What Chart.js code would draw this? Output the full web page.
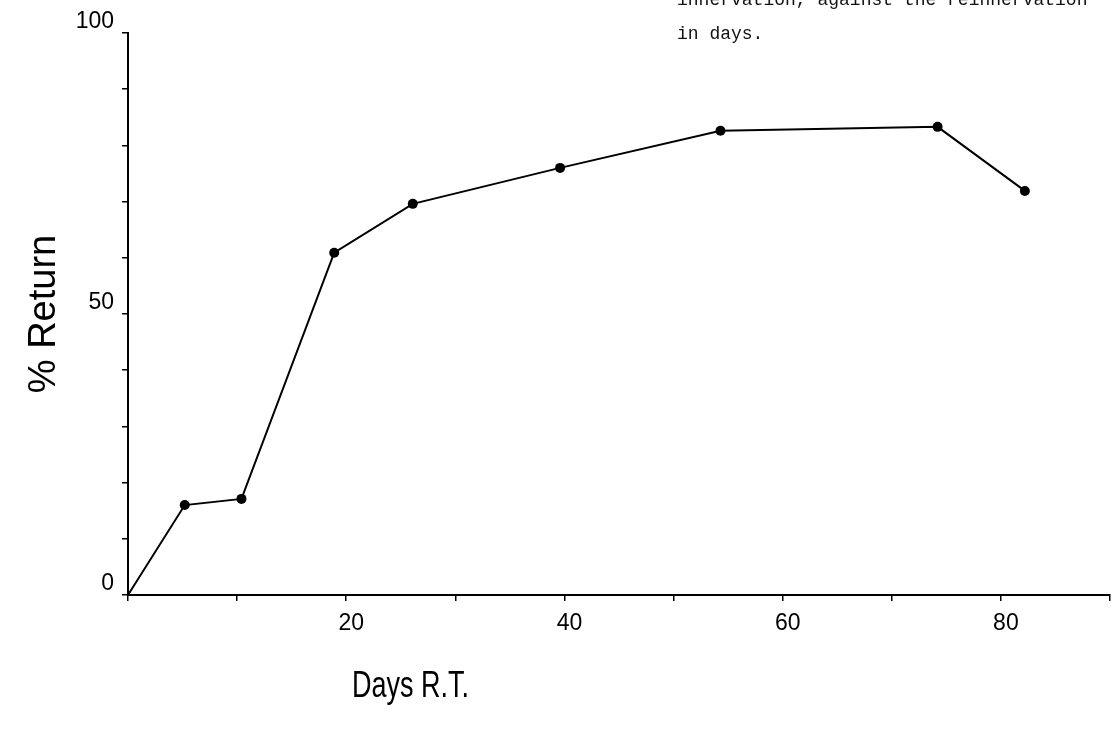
<!DOCTYPE html>
<html>
<head>
<meta charset="utf-8">
<script src="https://cdn.jsdelivr.net/npm/chart.js@4/dist/chart.umd.min.js"></script>
<style>
    body { margin: 0; background: #fff; }
    .wrap { position: relative; width: 1115px; height: 730px; }
</style>
</head>
<body>
<div class="wrap"><canvas id="chart"></canvas></div>
<script>
// days after reinnervation / % return
const days = [0, 5.2, 10.4, 18.9, 26.1, 39.6, 54.3, 74.2, 82.2];
const pctReturn = [0, 16.0, 17.1, 60.9, 69.6, 76.0, 82.6, 83.3, 71.9];
const xLabels = [20, 40, 60, 80];
const yLabels = [0, 50, 100];
const captionLines = ['innervation, against the reinnervation', 'in days.'];
const xTitle = 'Days R.T.';
const yTitle = '% Return';

const points = days.map((d, i) => ({ x: d, y: pctReturn[i] }));

/* caption at the top right and the x title, drawn straight on the canvas */
const notesPlugin = {
    id: 'notes',
    afterDraw(chart) {
        const ctx = chart.ctx;
        ctx.save();
        ctx.fillStyle = '#111';
        ctx.textBaseline = 'alphabetic';
        ctx.font = '18px "Liberation Mono", monospace';
        ctx.fillText(captionLines[0], 677, 5);
        ctx.fillText(captionLines[1], 677, 39);

        ctx.translate(352, 697);
        ctx.scale(0.75, 1);
        ctx.font = '36px "Liberation Sans", sans-serif';
        ctx.fillStyle = '#000';
        ctx.fillText(xTitle, 0, 0);
        ctx.restore();
    }
};

const chart = document.querySelector('#chart').getContext('2d');
const myChart = new Chart(chart, {
    type: 'line',
    data: {
        datasets: [{
            data: points,
            borderColor: '#000',
            backgroundColor: '#000',
            borderWidth: 2,
            pointRadius: c => c.dataIndex === 0 ? 0 : 5,
            pointBorderWidth: 0,
            tension: 0,
            fill: false,
            clip: false,
        }]
    },
    options: {
        responsive: true,
        maintainAspectRatio: false,
        animation: false,
        layout: { padding: { top: 33, right: 0, left: 0, bottom: 0 } },
        plugins: {
            legend: { display: false },
            tooltip: { enabled: false },
        },
        scales: {
            x: {
                type: 'linear',
                min: 0,
                max: 90,
                afterFit: s => { s.height = 135; s.paddingLeft = 0; s.paddingRight = 0; },
                grid: { drawOnChartArea: false, drawTicks: true, tickLength: 6, color: '#000', lineWidth: 1.5 },
                border: { color: '#000', width: 2 },
                ticks: {
                    stepSize: 10,
                    includeBounds: false,
                    autoSkip: false,
                    maxRotation: 0,
                    padding: 9,
                    labelOffset: 5,
                    color: '#000',
                    font: { family: '"Liberation Sans", sans-serif', size: 23 },
                    callback: v => xLabels.includes(v) ? String(v) : '',
                },
            },
            y: {
                type: 'linear',
                min: 0,
                max: 100,
                afterFit: s => { s.width = 128; },
                grid: { drawOnChartArea: false, drawTicks: true, tickLength: 6, color: '#000', lineWidth: 1.5 },
                border: { color: '#000', width: 2 },
                title: {
                    display: true,
                    text: yTitle,
                    color: '#000',
                    padding: { top: 22, bottom: 0 },
                    font: { family: '"Liberation Sans", sans-serif', size: 38 },
                },
                ticks: {
                    stepSize: 10,
                    autoSkip: false,
                    padding: 8,
                    labelOffset: -11,
                    color: '#000',
                    font: { family: '"Liberation Sans", sans-serif', size: 23 },
                    callback: v => yLabels.includes(v) ? String(v) : '',
                },
            },
        },
    },
    plugins: [notesPlugin],
});
</script>
</body>
</html>
